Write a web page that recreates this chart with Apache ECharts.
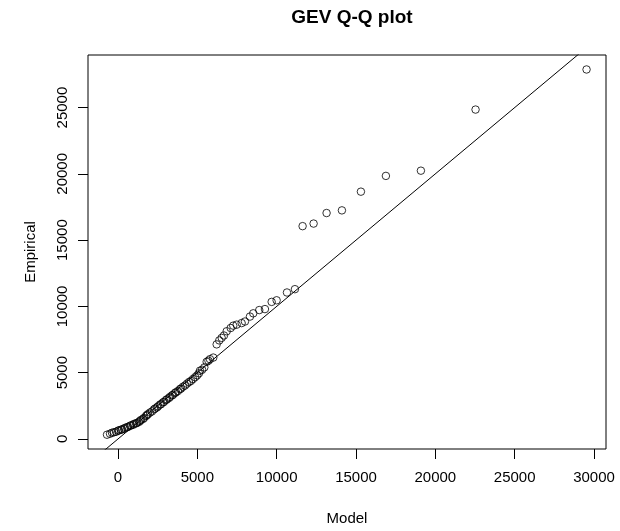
<!DOCTYPE html>
<html>
<head>
<meta charset="utf-8">
<script src="https://cdn.jsdelivr.net/npm/echarts@6/dist/echarts.min.js"></script>
<style>html,body{margin:0;padding:0;background:#fff;}#c{width:620px;height:531px;}</style>
</head>
<body>
<div id="c"></div>
<script>
const titleText = "GEV Q-Q plot";
const xName = "Model";
const yName = "Empirical";
const xTicks = [0, 5000, 10000, 15000, 20000, 25000, 30000];
const yTicks = [0, 5000, 10000, 15000, 20000, 25000];
const xRange = [-1891, 30756];
const yRange = [-758, 28967];
// Model quantiles
const modelQ = [-693,-504,-378,-252,-126,0,63,189,252,378,441,567,630,756,819,945,1008,1134,1197,1323,1386,1449,1575,1638,1764,1827,
 1890,2016,2142,2268,2331,2457,2520,2646,2709,2835,2898,3024,3087,3213,3276,3402,3465,3591,3654,3780,3906,3969,4095,4221,4347,4473,4599,4725,
 4860,4990,5100,5166,5300,5440,5588,5700,5796,6004,
 6218,6382,6533,6678,6848,7100,7264,7478,7793,8001,8316,8524,8902,9261,9683,9998,
 10650,11150,
 11634,12328,13146,14112,15309,16884,19090,22535,29530];
// Empirical quantiles
const empQ = [320,394,468,505,543,617,654,691,728,766,840,877,914,989,1026,1063,1137,1174,1212,1286,1360,1434,1509,1583,1732,1806,
 1870,1990,2080,2230,2290,2380,2460,2590,2620,2760,2800,2940,2990,3090,3170,3290,3330,3470,3520,3620,3760,3800,3940,4030,4170,4290,4380,4520,
 4660,4800,4950,5150,5220,5400,5820,5900,6020,6140,
 7136,7433,7626,7804,8124,8370,8548,8622,8741,8860,9232,9478,9723,9798,10341,10460,
 11050,11300,
 16055,16249,17045,17245,18657,19846,20240,24850,27875];

const points = modelQ.map((m, i) => [m, empQ[i]]);
const chart = echarts.init(document.getElementById('c'), null, {renderer: 'canvas'});
const font = "Liberation Sans, Arial, Helvetica, sans-serif";
chart.setOption({
  animation: false,
  backgroundColor: '#ffffff',
  title: {text: titleText, left: 347, top: 3, textAlign: 'center',
    textStyle: {fontFamily: font, fontWeight: 'bold', fontSize: 19, color: '#000'}},
  grid: {left: 88, right: 14, top: 55, bottom: 76.5, show: true, borderColor: '#000', borderWidth: 1, backgroundColor: 'transparent'},
  xAxis: {type: 'value', min: xRange[0], max: xRange[1],
    name: xName, nameLocation: 'middle', nameGap: 62,
    nameTextStyle: {fontFamily: font, fontSize: 15, color: '#000'},
    splitLine: {show: false}, axisLine: {show: false, onZero: false},
    axisTick: {show: true, inside: false, length: 10, lineStyle: {color: '#000', width: 1}, customValues: xTicks},
    axisLabel: {fontFamily: font, fontSize: 15, color: '#000', margin: 21, customValues: xTicks, formatter: v => String(v)}},
  yAxis: {type: 'value', min: yRange[0], max: yRange[1],
    name: yName, nameLocation: 'middle', nameGap: 50, nameRotate: 90,
    nameTextStyle: {fontFamily: font, fontSize: 15, color: '#000'},
    splitLine: {show: false}, axisLine: {show: false, onZero: false},
    axisTick: {show: true, inside: false, length: 10, lineStyle: {color: '#000', width: 1}, customValues: yTicks},
    axisLabel: {fontFamily: font, fontSize: 15, color: '#000', margin: 18, rotate: 90, customValues: yTicks, formatter: v => String(v)}},
  series: [
    {type: 'line', data: [[xRange[0], xRange[0]], [xRange[1], xRange[1]]], symbol: 'none', clip: true,
      lineStyle: {color: '#000', width: 1}, silent: true, z: 1},
    {type: 'scatter', data: points, symbol: 'circle', symbolSize: 7.5,
      itemStyle: {color: 'transparent', borderColor: '#000', borderWidth: 1}, z: 2}
  ]
});
</script>
</body>
</html>
